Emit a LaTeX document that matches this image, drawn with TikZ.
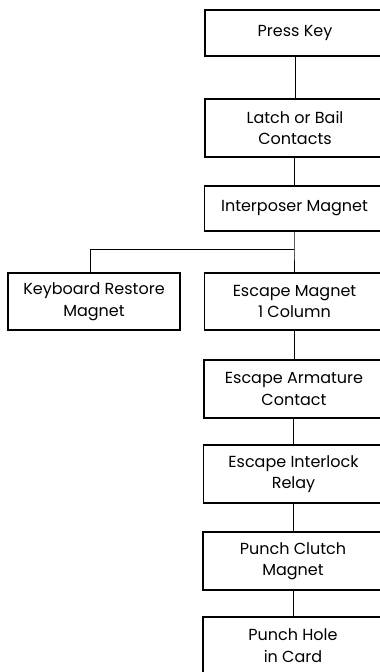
\documentclass[tikz,border=0pt]{standalone}
\usepackage{fontspec}
\setmainfont{Poppins}
\begin{document}
\begin{tikzpicture}[x=1pt,y=-1pt,
  box/.style={draw,line width=1.6pt,minimum width=180pt,align=center,font=\fontsize{16}{21.5}\selectfont,inner sep=0pt},
  conn/.style={line width=1pt}]
\useasboundingbox (0,0) rectangle (380,672);
\clip (0,0) rectangle (380,672);
\node[box,minimum height=46pt] (press) at (295,33) {Press Key};
\node[box,minimum height=58pt] (latch) at (295,128) {Latch or Bail\\Contacts};
\node[box,minimum height=45pt] (inter) at (294.5,208.5) {Interposer Magnet};
\node[box,minimum width=172pt,minimum height=57pt] (kbd) at (94,301.5) {Keyboard Restore\\Magnet};
\node[box,minimum height=57pt] (escm) at (294.5,301.5) {Escape Magnet\\1 Column};
\node[box,minimum height=58pt] (esca) at (294,389) {Escape Armature\\Contact};
\node[box,minimum height=58pt] (esci) at (293.5,474) {Escape Interlock\\Relay};
\node[box,minimum height=58pt] (clutch) at (293,561) {Punch Clutch\\Magnet};
\node[box,minimum height=57pt] (hole) at (293,645.5) {Punch Hole\\in Card};
\coordinate (j) at (294,249);
\coordinate (jl) at (90,249);
\draw[conn] (press.south -| 295,0) -- (latch.north -| 295,0);
\draw[conn] (latch.south -| 294,0) -- (inter.north -| 294,0);
\draw[conn] (inter.south -| 294,0) -- (j) -- (escm.north -| j);
\draw[conn] (j) -- (jl) -- (kbd.north -| jl);
\draw[conn] (escm.south -| 294,0) -- (esca.north -| 294,0);
\draw[conn] (esca.south -| 293,0) -- (esci.north -| 293,0);
\draw[conn] (esci.south -| 293,0) -- (clutch.north -| 293,0);
\draw[conn] (clutch.south -| 293,0) -- (hole.north -| 293,0);
\end{tikzpicture}
\end{document}
